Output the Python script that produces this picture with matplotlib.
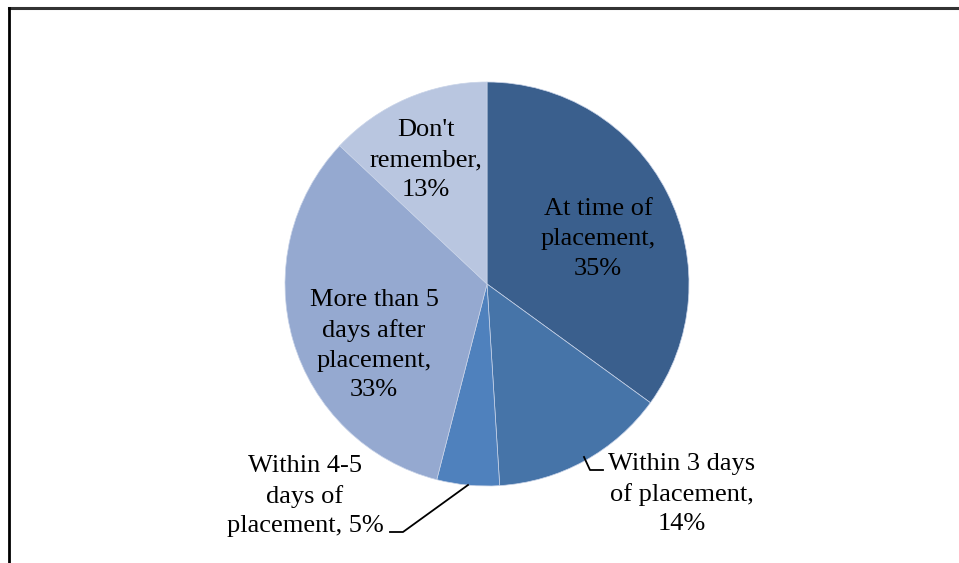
import matplotlib.pyplot as plt

# Cuándo se informó - datos del gráfico
categorias = ["At time of\nplacement,\n35%", "Within 3 days\nof placement,\n14%",
              "Within 4-5\ndays of\nplacement, 5%", "More than 5\ndays after\nplacement,\n33%",
              "Don't\nremember,\n13%"]
valores = [35, 14, 5, 33, 13]
colores = ["#3A5F8D", "#4674A8", "#4F81BD", "#95A9D0", "#B9C6E0"]

W, H = 959, 563
# posiciones de las etiquetas (pixeles, origen abajo-izquierda)
pos_etiquetas = [(598, H - 239), (682, H - 494), (305, H - 496), (374, H - 345), (426, H - 160)]

fig = plt.figure(figsize=(W / 100, H / 100), dpi=100)
ax = fig.add_axes([0, 0, 1, 1])

ax.pie(valores, colors=colores, startangle=90, counterclock=False,
       center=(487, H - 284), radius=202, frame=True,
       wedgeprops=dict(edgecolor="#C8D3E8", linewidth=0.5))
ax.set_xlim(0, W)
ax.set_ylim(0, H)
ax.axis("off")

for txt, (x, y) in zip(categorias, pos_etiquetas):
    ax.text(x, y, txt, ha="center", va="center", fontsize=19,
            family="Liberation Serif", linespacing=1.45)

# lineas guia
ax.plot([584, 590, 603], [H - 457, H - 470, H - 470], color="black", lw=1.3)
ax.plot([468, 403, 390], [H - 485, H - 532, H - 532], color="black", lw=1.3)

# marco
fig.add_artist(plt.Line2D([9 / W, 1], [1 - 8 / H, 1 - 8 / H], color="#333333", lw=2.2))
fig.add_artist(plt.Line2D([9 / W, 9 / W], [0, 1 - 8 / H], color="black", lw=2))

fig.savefig("out.png", dpi=100)
